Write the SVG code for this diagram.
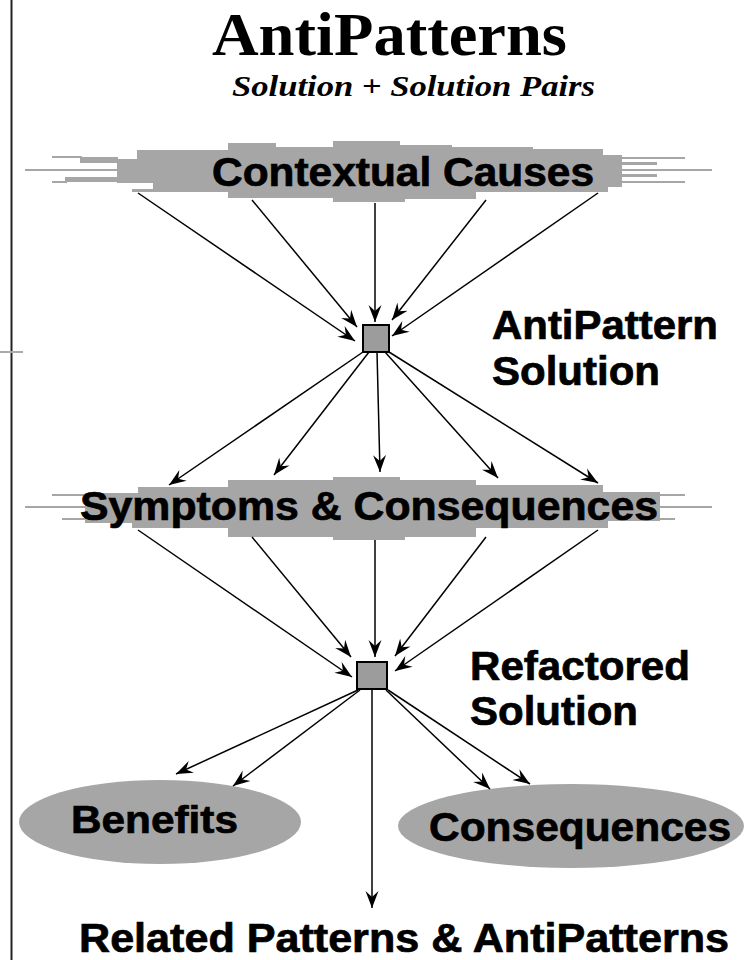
<svg xmlns="http://www.w3.org/2000/svg" width="746" height="960" viewBox="0 0 746 960">
  <style>
    .bg { fill: #ffffff; }
    .shape { fill: #a6a6a6; }
    .box { fill: #9c9c9c; stroke: #000; stroke-width: 2; }
    .lbl { font-family: "Liberation Sans", Arial, sans-serif; font-weight: bold; fill: #000; stroke: #000; stroke-width: 0.7; }
    .conn line { stroke: #000; stroke-width: 1.5; fill: none; marker-end: url(#arr); }
  </style>
  <defs>
    <marker id="arr" markerUnits="userSpaceOnUse" markerWidth="18" markerHeight="14" refX="17" refY="7" orient="auto">
      <path d="M0,0.5 L17,7 L0,13.5 L6,7 Z" fill="#000"/>
    </marker>
  </defs>
  <rect class="bg" x="0" y="0" width="746" height="960"/>

  <!-- frame line -->
  <line x1="11.5" y1="0" x2="11.5" y2="960" stroke="#222" stroke-width="2"/>
  <line x1="0" y1="352" x2="23" y2="352" stroke="#aaa" stroke-width="2"/>

  <!-- title -->
  <g id="title">
    <text x="212" y="55" font-family="'Liberation Serif', 'Times New Roman', serif" font-weight="bold" font-size="62" textLength="355" lengthAdjust="spacingAndGlyphs">AntiPatterns</text>
    <text x="232" y="96" font-family="'Liberation Serif', 'Times New Roman', serif" font-weight="bold" font-style="italic" font-size="29" textLength="363" lengthAdjust="spacingAndGlyphs">Solution + Solution Pairs</text>
  </g>

  <!-- Contextual Causes -->
  <g id="contextual-causes">
    <path class="shape" d="M117,159 L137,159 L137,150 L228,150 L228,143 L276,143 L276,147 L333,147 L333,141 L400,141 L400,145 L452,145 L452,147 L533,147 L533,149 L603,149 L603,155 L622,155 L622,187 L608,187 L608,192 L476,192 L476,199 L405,199 L405,202 L333,202 L333,198 L228,198 L228,192 L132,192 L132,189 L153,189 L153,183 L117,183 Z"/>
    <rect class="shape" x="52" y="156" width="30" height="2"/>
    <rect class="shape" x="80" y="157" width="38" height="6"/>
    <rect class="shape" x="25" y="169" width="93" height="2"/>
    <rect class="shape" x="65" y="177" width="53" height="5"/>
    <rect class="shape" x="52" y="181" width="15" height="2"/>
    <rect class="shape" x="621" y="157" width="64" height="2"/>
    <rect class="shape" x="621" y="162" width="36" height="3"/>
    <rect class="shape" x="621" y="169" width="91" height="2"/>
    <rect class="shape" x="621" y="174" width="36" height="3"/>
    <rect class="shape" x="621" y="181" width="64" height="2"/>
    <text class="lbl" x="212" y="186" font-size="40" textLength="382" lengthAdjust="spacingAndGlyphs">Contextual Causes</text>
  </g>

  <!-- AntiPattern Solution -->
  <g id="antipattern-solution">
    <rect class="box" x="363" y="325" width="26" height="27"/>
    <text class="lbl" x="492" y="339" font-size="40" textLength="226" lengthAdjust="spacingAndGlyphs">AntiPattern</text>
    <text class="lbl" x="492" y="385" font-size="40" textLength="168" lengthAdjust="spacingAndGlyphs">Solution</text>
  </g>

  <!-- Symptoms & Consequences -->
  <g id="symptoms-consequences">
    <path class="shape" d="M85,493 L138,493 L138,487 L228,487 L228,480 L333,480 L333,477 L400,477 L400,480 L476,480 L476,485 L603,485 L603,492 L660,492 L660,521 L608,521 L608,528 L476,528 L476,537 L405,537 L405,540 L333,540 L333,537 L228,537 L228,528 L132,528 L132,523 L85,523 Z"/>
    <rect class="shape" x="52" y="494" width="35" height="2"/>
    <rect class="shape" x="25" y="506" width="62" height="2"/>
    <rect class="shape" x="62" y="518" width="25" height="2"/>
    <rect class="shape" x="659" y="494" width="26" height="2"/>
    <rect class="shape" x="659" y="506" width="53" height="2"/>
    <rect class="shape" x="659" y="518" width="16" height="2"/>
    <text class="lbl" x="80" y="520" font-size="41" textLength="578" lengthAdjust="spacingAndGlyphs">Symptoms &amp; Consequences</text>
  </g>

  <!-- Refactored Solution -->
  <g id="refactored-solution">
    <rect class="box" x="357" y="662" width="30" height="27"/>
    <text class="lbl" x="470" y="680" font-size="40" textLength="220" lengthAdjust="spacingAndGlyphs">Refactored</text>
    <text class="lbl" x="470" y="725" font-size="40" textLength="168" lengthAdjust="spacingAndGlyphs">Solution</text>
  </g>

  <!-- Benefits -->
  <g id="benefits">
    <ellipse class="shape" cx="160" cy="822" rx="141" ry="42"/>
    <text class="lbl" x="71" y="833" font-size="39" textLength="167" lengthAdjust="spacingAndGlyphs">Benefits</text>
  </g>

  <!-- Consequences -->
  <g id="consequences">
    <ellipse class="shape" cx="571" cy="826" rx="173" ry="42"/>
    <text class="lbl" x="429" y="841" font-size="40" textLength="302" lengthAdjust="spacingAndGlyphs">Consequences</text>
  </g>

  <!-- Related Patterns -->
  <g id="related-patterns">
    <text class="lbl" x="79" y="952" font-size="40" textLength="650" lengthAdjust="spacingAndGlyphs">Related Patterns &amp; AntiPatterns</text>
  </g>

  <!-- connectors -->
  <g id="connectors" class="conn">
    <line x1="138" y1="193" x2="355" y2="341"/>
    <line x1="252" y1="200" x2="357" y2="327"/>
    <line x1="375" y1="203" x2="375" y2="322"/>
    <line x1="486" y1="200" x2="392" y2="320"/>
    <line x1="598" y1="193" x2="392" y2="336"/>

    <line x1="363" y1="352" x2="169" y2="485"/>
    <line x1="369" y1="352" x2="274" y2="475"/>
    <line x1="377" y1="352" x2="380" y2="472"/>
    <line x1="385" y1="352" x2="498" y2="478"/>
    <line x1="389" y1="352" x2="598" y2="483"/>

    <line x1="138" y1="530" x2="352" y2="677"/>
    <line x1="252" y1="537" x2="351" y2="657"/>
    <line x1="375" y1="540" x2="375" y2="657"/>
    <line x1="486" y1="537" x2="395" y2="656"/>
    <line x1="598" y1="530" x2="395" y2="671"/>

    <line x1="358" y1="690" x2="176" y2="774"/>
    <line x1="360" y1="690" x2="233" y2="786"/>
    <line x1="386" y1="690" x2="490" y2="789"/>
    <line x1="388" y1="690" x2="530" y2="784"/>
    <line x1="372" y1="689" x2="372" y2="908"/>
  </g>
</svg>
